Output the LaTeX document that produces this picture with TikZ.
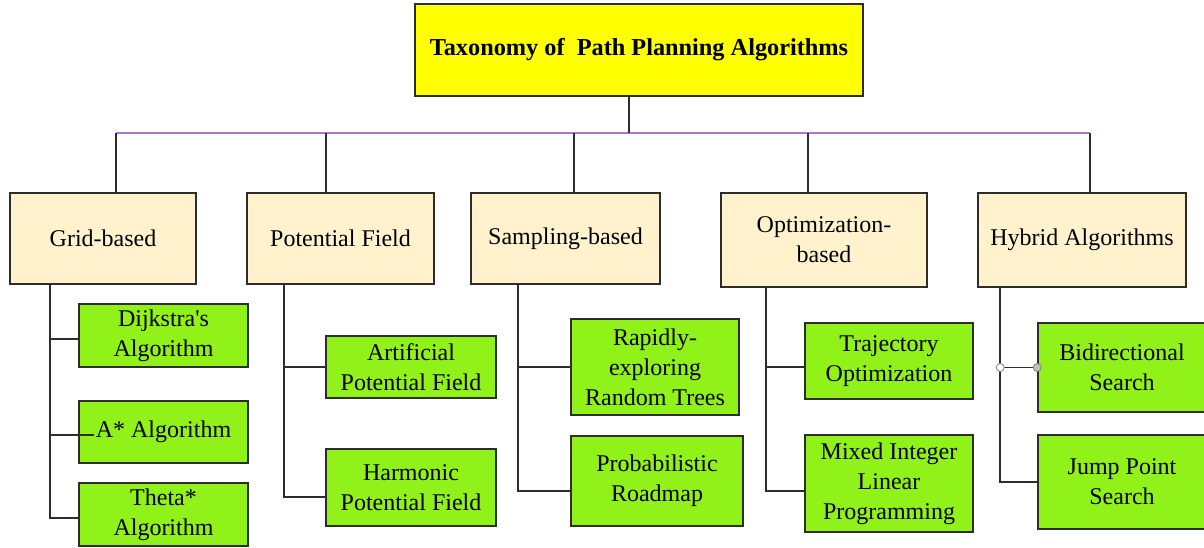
\documentclass[tikz,border=0pt]{standalone}
\usepackage{fontspec}
\setmainfont{Liberation Serif}
\usetikzlibrary{calc}
\definecolor{ttl}{RGB}{255,255,0}
\definecolor{catfill}{RGB}{255,242,204}
\definecolor{leaf}{RGB}{145,242,25}
\definecolor{edgec}{RGB}{45,45,45}
\definecolor{busc}{RGB}{165,120,210}
\begin{document}
\begin{tikzpicture}[x=1pt,y=-1pt,
  box/.style={draw=edgec,line width=1.6pt,align=center,inner sep=0pt,font=\fontsize{24}{30}\selectfont},
  titlebox/.style={box,fill=ttl,font=\bfseries\fontsize{24.3}{29}\selectfont},
  catbox/.style={box,fill=catfill},
  leafbox/.style={box,fill=leaf},
  link/.style={draw=edgec,line width=1.8pt},
  buslink/.style={draw=busc,line width=2.2pt},
  handle/.style={circle,draw=gray,line width=0.8pt,inner sep=0pt,minimum size=8pt}
  ]
\useasboundingbox (0,0) rectangle (1204,547);
% title
\node[titlebox,minimum width=448pt,minimum height=92pt] (title) at (639,50) {Taxonomy of~ Path Planning Algorithms};
% categories
\node[catbox,minimum width=186pt,minimum height=91pt] (grid) at (103,238.5) {Grid-based};
\node[catbox,minimum width=187pt,minimum height=91pt] (pot) at (340.5,238.5) {Potential Field};
\node[catbox,minimum width=189pt,minimum height=91pt] (samp) at (565.5,238.5) {Sampling-based};
\node[catbox,minimum width=206pt,minimum height=94pt] (opt) at (824,240) {Optimization-\\based};
\node[catbox,minimum width=208pt,minimum height=94pt] (hyb) at (1082,240) {Hybrid Algorithms};
% leaves
\node[leafbox,minimum width=169pt,minimum height=63pt] (dijk) at (163.5,335.5) {Dijkstra\textquotesingle s\\Algorithm};
\node[leafbox,minimum width=169pt,minimum height=62pt] (astar) at (163.5,432) {A* Algorithm};
\node[leafbox,minimum width=169pt,minimum height=63pt] (theta) at (163.5,514.5) {Theta*\\Algorithm};
\node[leafbox,minimum width=170pt,minimum height=62pt] (art) at (411,367) {Artificial\\Potential Field};
\node[leafbox,minimum width=170pt,minimum height=77pt] (harm) at (411,487.5) {Harmonic\\Potential Field};
\node[leafbox,minimum width=168pt,minimum height=96pt] (rrt) at (655,367) {Rapidly-\\exploring\\Random Trees};
\node[leafbox,minimum width=172pt,minimum height=90pt] (prm) at (657,481) {Probabilistic\\Roadmap};
\node[leafbox,minimum width=168pt,minimum height=76pt] (traj) at (889,361) {Trajectory\\Optimization};
\node[leafbox,minimum width=168pt,minimum height=97pt] (milp) at (889,483.5) {Mixed Integer\\Linear\\Programming};
\node[leafbox,minimum width=168pt,minimum height=89pt] (bidi) at (1122,367.5) {Bidirectional\\Search};
\node[leafbox,minimum width=168pt,minimum height=94pt] (jps) at (1122,482) {Jump Point\\Search};
% bus
\coordinate (stem) at (629,133);
\coordinate (bg) at (116,133);
\coordinate (bp) at (326,133);
\coordinate (bs) at (574,133);
\coordinate (bo) at (808,133);
\coordinate (bh) at (1090,133);
\draw[buslink] (bg) -- (bh);
\draw[link] (title.south -| stem) -- (stem);
\draw[link] (bg) -- (bg |- grid.north);
\draw[link] (bp) -- (bp |- pot.north);
\draw[link] (bs) -- (bs |- samp.north);
\draw[link] (bo) -- (bo |- opt.north);
\draw[link] (bh) -- (bh |- hyb.north);
% trunk coordinates
\coordinate (tg) at ($(grid.south west)+(41,0)$);
\coordinate (tp) at ($(pot.south west)+(38,0)$);
\coordinate (ts) at ($(samp.south west)+(48,0)$);
\coordinate (to) at ($(opt.south west)+(46,0)$);
\coordinate (th) at ($(hyb.south west)+(23,0)$);
\coordinate (kd) at ($(dijk.west)+(0,3.5)$);
\coordinate (ka) at ($(astar.west)+(16,3)$);
\coordinate (kt) at ($(theta.west)+(0,3.5)$);
\coordinate (kar) at (art.west);
\coordinate (kh) at ($(harm.west)+(0,9.5)$);
\coordinate (kr) at (rrt.west);
\coordinate (kp) at ($(prm.west)+(0,10)$);
\coordinate (ktr) at ($(traj.west)+(0,6)$);
\coordinate (km) at ($(milp.west)+(0,7.5)$);
\coordinate (kb) at (bidi.west);
\coordinate (kj) at (jps.west);
% grid
\draw[link] (tg) |- (kt);
\draw[link] (tg |- kd) -- (kd);
\draw[link] (tg |- ka) -- (ka);
% potential
\draw[link] (tp) |- (kh);
\draw[link] (tp |- kar) -- (kar);
% sampling
\draw[link] (ts) |- (kp);
\draw[link] (ts |- kr) -- (kr);
% optimization
\draw[link] (to) |- (km);
\draw[link] (to |- ktr) -- (ktr);
% hybrid
\draw[link] (th) |- (kj);
\draw[link] (th |- kb) -- (kb);
\node[handle,fill=white] (h1) at (th |- kb) {};
\node[handle,fill=lightgray] (h2) at (kb) {};
\end{tikzpicture}
\end{document}
